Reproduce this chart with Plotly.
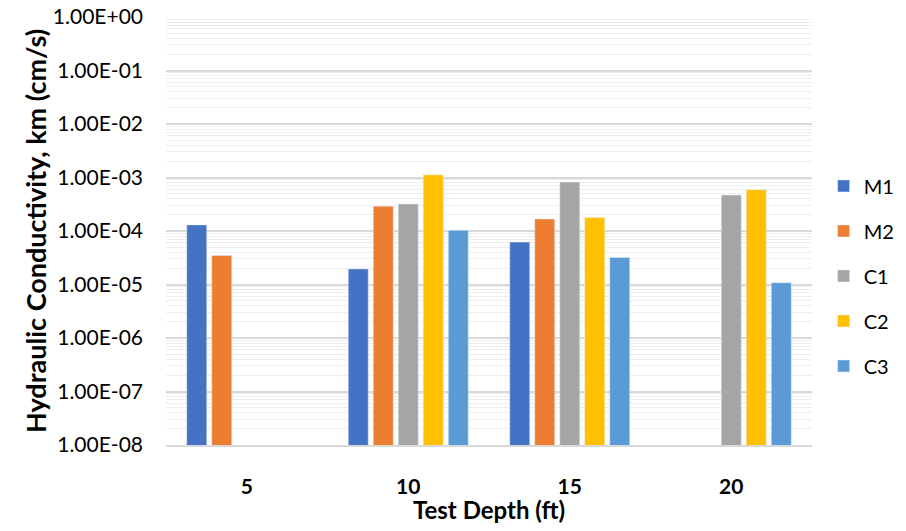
import plotly.graph_objects as go

depths = ["5", "10", "15", "20"]
series_names = ["M1", "M2", "C1", "C2", "C3"]
M1 = [1.3e-4, 1.95e-5, 6.2e-5, None]
M2 = [3.5e-5, 2.9e-4, 1.68e-4, None]
C1 = [None, 3.2e-4, 8.2e-4, 4.7e-4]
C2 = [None, 1.12e-3, 1.78e-4, 5.9e-4]
C3 = [None, 1.03e-4, 3.2e-5, 1.08e-5]
colors = ["#4472C4", "#ED7D31", "#A5A5A5", "#FFC000", "#5B9BD5"]
tick_vals = [1e-8, 1e-7, 1e-6, 1e-5, 1e-4, 1e-3, 1e-2, 1e-1, 1e0]
tick_text = ["1.00E-08", "1.00E-07", "1.00E-06", "1.00E-05", "1.00E-04",
             "1.00E-03", "1.00E-02", "1.00E-01", "1.00E+00"]
y_title = "Hydraulic Conductivity, km (cm/s)"
x_title = "Test Depth (ft)"

FONT = "Lato"
# page body has an 8px margin on every side
OFF = 8
W, H = 906 - 2 * OFF, 531 - 2 * OFF
L, T = 166 - OFF, 17 - OFF
R = W - (812 - OFF)
B = H - (445 - OFF)
PW, PH = W - L - R, H - T - B
fig = go.Figure()
for name, vals, col in zip(series_names, [M1, M2, C1, C2, C3], colors):
    fig.add_trace(go.Bar(x=depths, y=vals, name=name, marker_color=col,
                         legendgroup=name))

fig.update_layout(
    width=W, height=H,
    margin=dict(l=L, r=R, t=T, b=B, autoexpand=False),
    paper_bgcolor="white", plot_bgcolor="white",
    barmode="group", bargap=0.226, bargroupgap=0.2,
    font=dict(family=FONT, size=21, color="#000000"),
    legend=dict(x=1.018, xanchor="left", y=0.395, yanchor="middle",
                traceorder="grouped", tracegroupgap=16,
                font=dict(size=20, family=FONT)),
    annotations=[
        dict(text=y_title, textangle=-90, xref="paper", yref="paper",
             x=-(L - (35 - OFF)) / PW, y=0.5, xanchor="center", yanchor="middle",
             showarrow=False, font=dict(size=27, family=FONT, weight="bold")),
        dict(text=x_title, xref="paper", yref="paper",
             x=0.5, y=-(509 - 445) / PH, xanchor="center", yanchor="middle",
             showarrow=False, font=dict(size=24, family=FONT, weight="bold")),
    ],
)
fig.update_yaxes(type="log", range=[-8, 0], tickvals=tick_vals, ticktext=tick_text,
                 showgrid=True, gridcolor="#D9D9D9", gridwidth=1.5,
                 minor=dict(dtick="D1", showgrid=True, gridcolor="#EEEEEE", gridwidth=1),
                 zeroline=False, showline=False, ticklabelstandoff=22, automargin=False,
                 ticklabeloverflow="allow",
                 tickfont=dict(size=21, family=FONT))
fig.update_xaxes(type="category", showline=True, linecolor="#D9D9D9", linewidth=1.5,
                 showgrid=False, ticklabelstandoff=22, automargin=False,
                 tickfont=dict(size=21, family=FONT, weight="bold"))
fig.write_html("out.html")
